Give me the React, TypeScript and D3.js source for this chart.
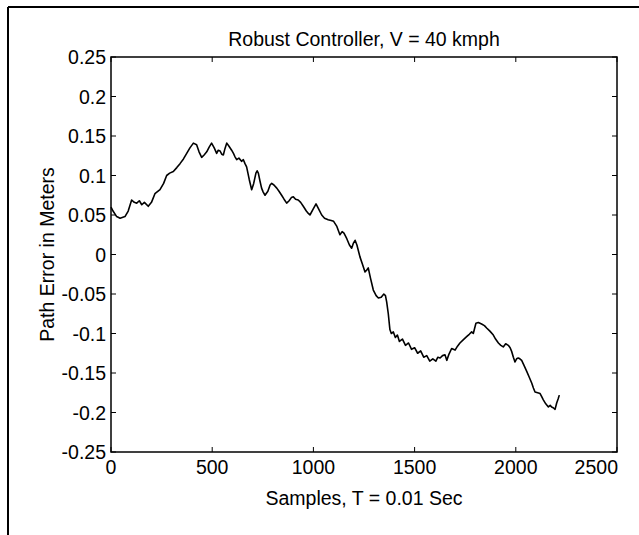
import React from "react";
import * as d3 from "d3";

const samples = [0,10,28,45,69,85,102,115,127,140,152,165,184,200,217,242,260,275,290,308,325,341,358,374,390,407,423,435,448,460,473,485,497,510,522,530,539,547,555,563,572,583,596,605,612,621,632,645,654,662,670,683,695,705,716,722,728,736,744,752,761,775,786,794,805,819,830,843,855,868,880,891,901,912,925,937,950,965,975,983,998,1013,1025,1041,1055,1073,1088,1100,1115,1131,1142,1151,1165,1178,1189,1197,1206,1215,1230,1242,1255,1263,1271,1282,1296,1310,1321,1335,1348,1356,1362,1370,1378,1385,1395,1405,1415,1425,1440,1455,1470,1485,1500,1515,1530,1545,1560,1575,1590,1605,1615,1626,1638,1650,1659,1670,1683,1700,1712,1724,1740,1757,1770,1782,1790,1797,1803,1815,1831,1845,1856,1872,1889,1900,1914,1926,1938,1950,1963,1972,1980,1988,1996,2004,2012,2020,2029,2040,2054,2066,2079,2087,2095,2108,2120,2128,2136,2148,2161,2170,2177,2185,2194,2202,2209,2215];
const pathError = [0.060,0.055,0.048,0.046,0.048,0.055,0.069,0.066,0.065,0.068,0.063,0.066,0.061,0.066,0.077,0.082,0.090,0.100,0.103,0.105,0.110,0.115,0.121,0.128,0.135,0.141,0.139,0.130,0.123,0.126,0.130,0.136,0.141,0.135,0.128,0.132,0.131,0.127,0.126,0.134,0.141,0.137,0.132,0.128,0.124,0.120,0.122,0.118,0.120,0.115,0.111,0.095,0.082,0.090,0.103,0.106,0.103,0.093,0.084,0.079,0.075,0.080,0.088,0.090,0.088,0.084,0.080,0.075,0.070,0.065,0.068,0.072,0.073,0.070,0.069,0.066,0.061,0.055,0.052,0.050,0.057,0.064,0.058,0.050,0.046,0.044,0.043,0.042,0.036,0.025,0.029,0.027,0.020,0.012,0.008,0.014,0.018,0.012,-0.003,-0.012,-0.022,-0.020,-0.017,-0.030,-0.045,-0.052,-0.055,-0.054,-0.050,-0.052,-0.060,-0.075,-0.095,-0.100,-0.098,-0.105,-0.102,-0.110,-0.107,-0.115,-0.112,-0.120,-0.118,-0.125,-0.122,-0.130,-0.128,-0.135,-0.132,-0.135,-0.130,-0.131,-0.128,-0.127,-0.134,-0.126,-0.119,-0.121,-0.116,-0.112,-0.108,-0.104,-0.101,-0.098,-0.100,-0.093,-0.087,-0.086,-0.088,-0.090,-0.093,-0.097,-0.102,-0.107,-0.112,-0.115,-0.117,-0.113,-0.115,-0.118,-0.123,-0.130,-0.136,-0.132,-0.131,-0.132,-0.134,-0.140,-0.148,-0.155,-0.163,-0.169,-0.174,-0.175,-0.176,-0.180,-0.184,-0.189,-0.193,-0.191,-0.193,-0.194,-0.196,-0.188,-0.183,-0.178];

const xTicks = [0, 500, 1000, 1500, 2000, 2500];
const yTicks = [0.25, 0.2, 0.15, 0.1, 0.05, 0, -0.05, -0.1, -0.15, -0.2, -0.25];
const yTickLabels = ["0.25","0.2","0.15","0.1","0.05","0","-0.05","-0.1","-0.15","-0.2","-0.25"];

const title = "Robust Controller, V = 40 kmph";
const xLabel = "Samples, T = 0.01 Sec";
const yLabel = "Path Error in Meters";

const W = 639, H = 535;
const L = 111, R = 617, T = 57, B = 452;
const FONT = "'Liberation Sans', Arial, Helvetica, sans-serif";
const FS = 19.5;

export default function App() {
  const x = d3.scaleLinear().domain([0, 2500]).range([L, R]);
  const y = d3.scaleLinear().domain([-0.25, 0.25]).range([B, T]);
  const line = d3.line<number>().x((_, i) => x(samples[i])).y((d) => y(d));
  const tl = 5;
  return (
    <svg width={W} height={H} style={{ position: "absolute", left: 0, top: 0, background: "#fff" }} fontFamily={FONT}>
      <rect x={0} y={0} width={W} height={H} fill="#fff" />
      <line x1={8} y1={7} x2={W} y2={7} stroke="#000" strokeWidth={2} />
      <line x1={8} y1={7} x2={8} y2={H} stroke="#000" strokeWidth={2} />
      <text x={(L + R) / 2} y={46} textAnchor="middle" fontSize={FS} fill="#000">{title}</text>
      {xTicks.map((t, i) => {
        const last = i === xTicks.length - 1;
        return (
          <g key={"x" + t}>
            <line x1={x(t)} x2={x(t)} y1={B} y2={B - tl} stroke="#000" strokeWidth={1} />
            <line x1={x(t)} x2={x(t)} y1={T} y2={T + tl} stroke="#000" strokeWidth={1} />
            <text x={last ? x(t) + 1 : x(t)} y={B + 22} textAnchor={last ? "end" : "middle"} fontSize={FS} fill="#000">{t}</text>
          </g>
        );
      })}
      {yTicks.map((t, i) => (
        <g key={"y" + i}>
          <line x1={L} x2={L + tl} y1={y(t)} y2={y(t)} stroke="#000" strokeWidth={1} />
          <line x1={R} x2={R - tl} y1={y(t)} y2={y(t)} stroke="#000" strokeWidth={1} />
          <text x={L - 5} y={y(t) + 7} textAnchor="end" fontSize={FS} fill="#000">{yTickLabels[i]}</text>
        </g>
      ))}
      <rect x={L} y={T} width={R - L} height={B - T} fill="none" stroke="#000" strokeWidth={1.5} />
      <path d={line(pathError) || ""} fill="none" stroke="#000" strokeWidth={1.6} strokeLinejoin="round" />
      <text x={(L + R) / 2} y={B + 53} textAnchor="middle" fontSize={FS} fill="#000">{xLabel}</text>
      <text transform={`translate(54, ${(T + B) / 2}) rotate(-90)`} textAnchor="middle" fontSize={FS} fill="#000">{yLabel}</text>
    </svg>
  );
}
